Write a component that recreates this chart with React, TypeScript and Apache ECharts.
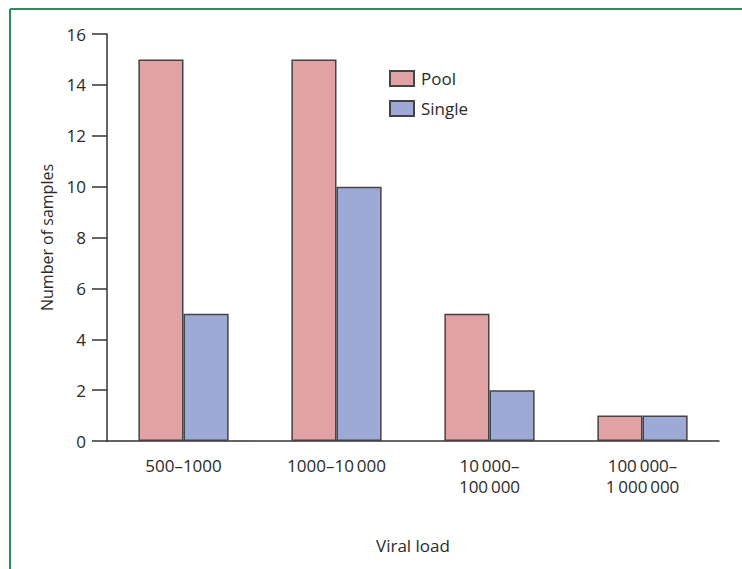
import React, { useEffect, useRef } from "react";
import * as echarts from "echarts";

const categories = ["500–1000", "1000–10\u2009000", "10\u2009000–\n100\u2009000", "100\u2009000–\n1\u2009000\u2009000"];
const poolValues = [15, 15, 5, 1];
const singleValues = [5, 10, 2, 1];
const seriesNames = ["Pool", "Single"];

export default function App() {
  const ref = useRef<HTMLDivElement>(null);
  useEffect(() => {
    if (!ref.current) return;
    const chart = echarts.init(ref.current, null, { renderer: "svg" });
    const font = "'Open Sans', sans-serif";
    const txt = "#2a2a2a";
    chart.setOption({
      animation: false,
      backgroundColor: "#ffffff",
      textStyle: { fontFamily: font },
      graphic: [
        {
          type: "line",
          shape: { x1: 10, y1: 9, x2: 742, y2: 9 },
          style: { stroke: "#2e8b5a", lineWidth: 2 },
        },
        {
          type: "line",
          shape: { x1: 10, y1: 9, x2: 10, y2: 569 },
          style: { stroke: "#2e8b5a", lineWidth: 2 },
        },
      ],
      legend: {
        orient: "vertical",
        left: 389,
        top: 70,
        padding: 0,
        icon: "rect",
        itemWidth: 24,
        itemHeight: 15,
        itemGap: 13,
        textStyle: { fontSize: 17, color: txt, fontFamily: font, padding: [0, 0, 0, 2] },
        data: seriesNames,
      },
      grid: { left: 107, right: 23, top: 34, bottom: 128, containLabel: false },
      xAxis: {
        type: "category",
        data: categories,
        name: "Viral load",
        nameLocation: "middle",
        nameGap: 96,
        nameTextStyle: { fontSize: 17, color: txt, fontFamily: font },
        axisLine: { show: true, lineStyle: { color: "#333", width: 1.5 } },
        axisTick: { show: false },
        axisLabel: { fontSize: 17, color: txt, margin: 14, lineHeight: 21, fontFamily: font },
      },
      yAxis: {
        type: "value",
        min: 0,
        max: 16,
        interval: 2,
        name: "Number of samples",
        nameLocation: "middle",
        nameGap: 52,
        nameTextStyle: { fontSize: 16, color: txt, fontFamily: font },
        axisLine: { show: true, lineStyle: { color: "#333", width: 1.5 } },
        axisTick: { show: true, length: 15, lineStyle: { color: "#333", width: 1.5 } },
        axisLabel: { fontSize: 17, color: txt, margin: 21, fontFamily: font },
        splitLine: { show: false },
      },
      series: [
        {
          name: seriesNames[0],
          type: "bar",
          data: poolValues,
          barGap: "0%",
          barCategoryGap: "41%",
          itemStyle: { color: "#e0a2a2", borderColor: "#444", borderWidth: 1.5 },
        },
        {
          name: seriesNames[1],
          type: "bar",
          data: singleValues,
          itemStyle: { color: "#9eaad6", borderColor: "#444", borderWidth: 1.5 },
        },
      ],
    });
    return () => chart.dispose();
  }, []);
  return <div ref={ref} style={{ width: 742, height: 569, position: "absolute", left: 0, top: 0 }} />;
}
